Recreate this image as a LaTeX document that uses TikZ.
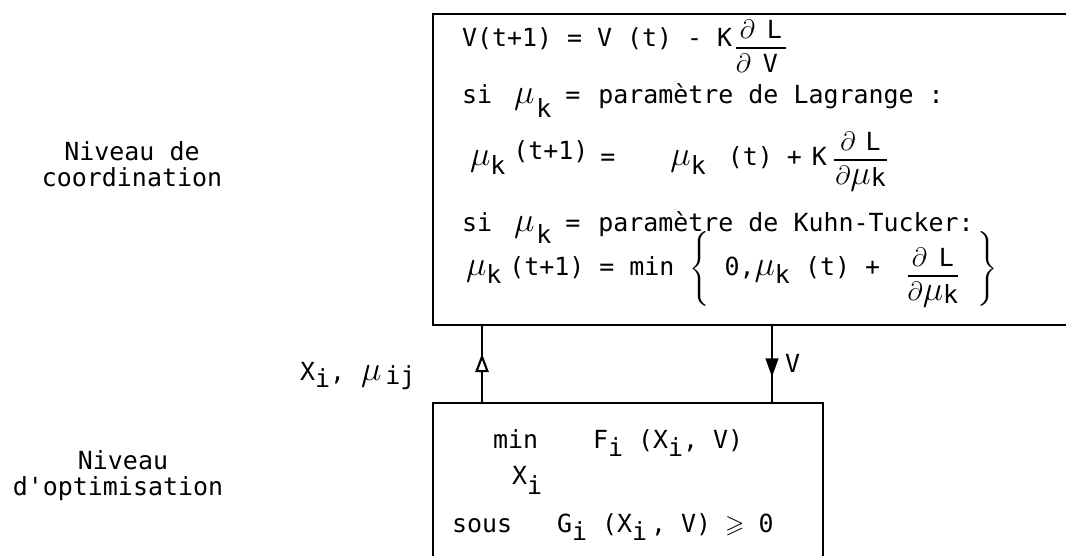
\documentclass[tikz,border=0pt]{standalone}
\usepackage{fontspec}
\usepackage{amsmath,amssymb}
\usepackage{graphicx}
\usetikzlibrary{arrows.meta,decorations.markings}
\newfontfamily\tw{DejaVu Sans Mono}
\newdimen\px \px=0.75pt
\newcommand{\mmu}{\scalebox{1.5}{$\mu$}}
\newcommand{\lo}[2]{\raisebox{-#1\px}{#2}}
\newcommand{\hs}[1]{\hspace*{#1\px}}
\newcommand{\fr}[3][7]{\raisebox{-#1\px}{$\genfrac{}{}{1.2pt}{0}{\hbox{#2}}{\hbox{#3}}$}}
\newcommand{\dd}{\scalebox{1.15}{$\partial$}}
\begin{document}
\begin{tikzpicture}[x=0.75pt,y=-0.75pt,
  txt/.style={font=\tw\fontsize{18.7}{19.5}\selectfont, inner sep=0pt, outer sep=0pt},
  box/.style={draw, line width=1.5pt, inner sep=0pt},
  link/.style={line width=1.5pt, postaction={decorate}},
  uplink/.style={link, decoration={markings, mark=at position 0.64 with {\arrow[line width=1.6pt]{Triangle[open, fill=white, length=14pt, width=10pt]}}}},
  downlink/.style={link, decoration={markings, mark=at position 0.67 with {\arrow{Triangle[length=14pt, width=9.5pt]}}}}]
\useasboundingbox (0,0) rectangle (1066,556);
% boxes
\node[box, anchor=north west, minimum width=482pt, minimum height=233.5pt] (top) at (432,13) {};
\node[box, anchor=north west, minimum width=292.5pt, minimum height=130pt] (bot) at (432,402) {};
% connectors
\draw[uplink] ([xshift=37.5pt]bot.north west) -- ([xshift=37.5pt]top.south west);
\draw[downlink] ([xshift=255pt]top.south west) -- ([xshift=255pt]bot.north west);
% left labels
\node[txt, align=center] (lc) at (132,164) {Niveau de\\coordination};
\node[txt, align=center] (lo) at (118,476) {\hs{10}Niveau\\d'optimisation};
% connector labels
\node[txt, anchor=base west] (lx) at (300,380) {X\lo{7}{i},\hs{16}\mmu\lo{4}{\hs{4}ij}};
\node[txt, anchor=base west] (lv) at (785,372) {V};
% top box text
\node[txt, anchor=base west] (l1) at (462,47) {V(t+1) = V (t) - K\hs{2}\fr{\dd\hs{12}L}{\dd\hs{12}V\hs{8}}};
\node[txt, anchor=base west] (l2) at (462,104) {si\hs{22}\mmu\hs{2}\lo{14}{k}\hs{14}=\hs{18}paramètre de Lagrange :};
\node[txt, anchor=base west] (l3) at (470,166) {\mmu\lo{8}{k}\hs{8}\raisebox{6\px}{(t+1)}\hs{12}=\hs{55}\mmu\lo{8}{k}\hs{22}(t)\hs{14}+\hs{10}K\hs{6}\fr[0]{\hs{6}\dd\hs{10}L\hs{6}}{\dd\mmu\lo{2}{k}}};
\node[txt, anchor=base west] (l4) at (462,231) {si\hs{22}\mmu\hs{2}\lo{12}{k}\hs{14}=\hs{18}paramètre de Kuhn-Tucker:};
\node[txt, anchor=base west] (l5) at (466,275) {\mmu\lo{8}{k}\hs{8}(t+1) = min $\Bigg\{$ 0,\mmu\lo{8}{k} (t) +\hs{26}\fr{\hs{4}\dd\hs{12}L\hs{4}}{\dd\mmu\lo{3}{k}}\hs{18}$\Bigg\}$};
% bottom box text
\node[txt, anchor=base west] (b1) at (493,448) {min\hs{55}F\lo{8}{i} (X\lo{8}{i}, V)};
\node[txt, anchor=base west] (b2) at (512,484) {X\lo{10}{i}};
\node[txt, anchor=base west] (b3) at (452,532) {sous\hs{45}G\lo{8}{i} (X\lo{8}{i}\hs{4}, V)\hs{14}$\geqslant$\hs{14}0};
\end{tikzpicture}
\end{document}
